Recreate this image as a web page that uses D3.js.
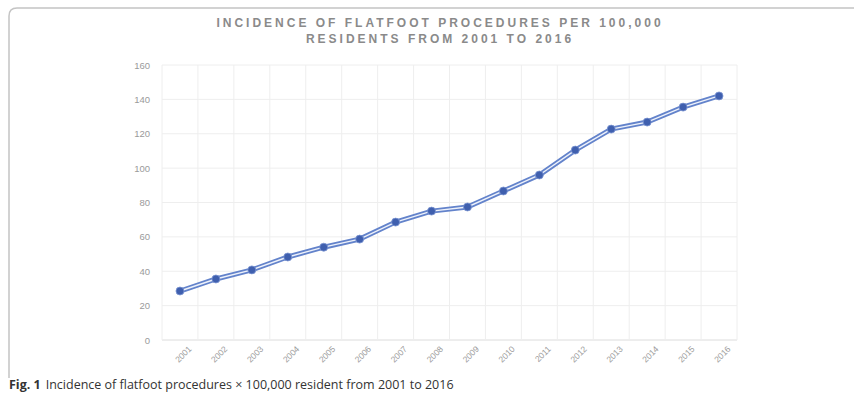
<html>
<head>
  <meta charset='utf-8' />
  <style>
    body { margin: 0; padding: 0; background: white; }
  </style>
</head>
<body>
  <svg id='chart' width='854' height='394'></svg>

<script src="https://d3js.org/d3.v7.min.js"></script>
<script>
///////////////////
/// Data
///////////////////

  const years = ['2001', '2002', '2003', '2004', '2005', '2006', '2007', '2008',
           '2009', '2010', '2011', '2012', '2013', '2014', '2015', '2016'];

  const incidence = [28.5, 35.5, 40.8, 48.3, 54, 58.7, 68.6, 75,
               77.4, 86.7, 96, 110.5, 122.7, 126.8, 135.5, 142];

  const yTicks = [0, 20, 40, 60, 80, 100, 120, 140, 160];

  const titleLines = ['INCIDENCE OF FLATFOOT PROCEDURES PER 100,000',
                'RESIDENTS FROM 2001 TO 2016'];

///////////////////
/// Setup
///////////////////

  const svg = d3.select('#chart');

  // rounded frame of the figure
  svg.append('path')
    .attr('d', 'M9,378 L9,16 Q9,8 17,8 L860,8')
    .attr('fill', 'none')
    .attr('stroke', '#c4c4c4')
    .attr('stroke-width', 1.5);

  const plotL = 162, plotR = 737, plotT = 65, plotB = 340;

  const x = d3.scaleBand()
    .domain(years)
    .range([plotL, plotR]);

  const y = d3.scaleLinear()
    .domain([0, 160])
    .range([plotB, plotT]);

  const chart = svg.append('g');

//////////////////
// Grid
//////////////////

  chart.append('g')
    .selectAll('line')
    .data(yTicks)
    .enter().append('line')
    .attr('x1', plotL).attr('x2', plotR)
    .attr('y1', d => y(d)).attr('y2', d => y(d))
    .attr('stroke', d => d === 0 ? '#dcdcdc' : '#eeeeee')
    .attr('stroke-width', 1);

  chart.append('g')
    .selectAll('line')
    .data(years.concat(['end']))
    .enter().append('line')
    .attr('x1', (d, i) => plotL + i * x.step())
    .attr('x2', (d, i) => plotL + i * x.step())
    .attr('y1', plotT).attr('y2', plotB)
    .attr('stroke', '#eeeeee')
    .attr('stroke-width', 1);

//////////////////
// Axes labels
//////////////////

  const yAxis = d3.axisLeft(y).tickValues(yTicks).tickSize(0).tickPadding(12);

  chart.append('g')
    .attr('transform', `translate(${plotL}, 0)`)
    .call(yAxis)
    .call(g => g.select('.domain').remove())
    .selectAll('text')
    .style('font', '9.5px "Liberation Sans", Arial, sans-serif')
    .attr('fill', '#9a9a9a');

  const xAxis = d3.axisBottom(x).tickSize(0).tickPadding(6);

  chart.append('g')
    .attr('transform', `translate(0, ${plotB})`)
    .call(xAxis)
    .call(g => g.select('.domain').remove())
    .selectAll('text')
    .style('font', '8.5px "Liberation Sans", Arial, sans-serif')
    .attr('fill', '#9a9a9a')
    .attr('text-anchor', 'end')
    .attr('dx', '0.2em')
    .attr('dy', '1.1em')
    .attr('transform', 'rotate(-45)');

//////////////////
// Line
//////////////////

  const line = d3.line()
    .x((d, i) => x(years[i]) + x.bandwidth() / 2)
    .y(d => y(d));

  chart.append('path')
    .datum(incidence)
    .attr('fill', 'none')
    .attr('stroke', '#6383cb')
    .attr('stroke-width', 5)
    .attr('d', line);

  chart.append('path')
    .datum(incidence)
    .attr('fill', 'none')
    .attr('stroke', '#eef2fb')
    .attr('stroke-width', 1.4)
    .attr('d', line);

  chart.append('g')
    .selectAll('circle')
    .data(incidence)
    .enter().append('circle')
    .attr('cx', (d, i) => x(years[i]) + x.bandwidth() / 2)
    .attr('cy', d => y(d))
    .attr('r', 4)
    .attr('fill', '#3f5fae')
    .attr('stroke', '#7d97d3')
    .attr('stroke-width', 0.8);

/////////////////
// Title and caption
/////////////////

  svg.append('g')
    .selectAll('text')
    .data(titleLines)
    .enter().append('text')
    .attr('x', 440)
    .attr('y', (d, i) => 27 + i * 16)
    .attr('text-anchor', 'middle')
    .style('font', 'bold 12px "Liberation Sans", Arial, sans-serif')
    .style('letter-spacing', '3px')
    .attr('fill', '#8a8a8a')
    .text(d => d);

  const caption = svg.append('text')
    .attr('x', 9)
    .attr('y', 389)
    .style('font', '12.5px "Open Sans", sans-serif')
    .attr('fill', '#333');

  caption.append('tspan')
    .style('font-weight', 'bold')
    .text('Fig. 1');

  caption.append('tspan')
    .attr('dx', 5)
    .text('Incidence of flatfoot procedures \u00d7 100,000 resident from 2001 to 2016');

</script>
</body>
</html>
